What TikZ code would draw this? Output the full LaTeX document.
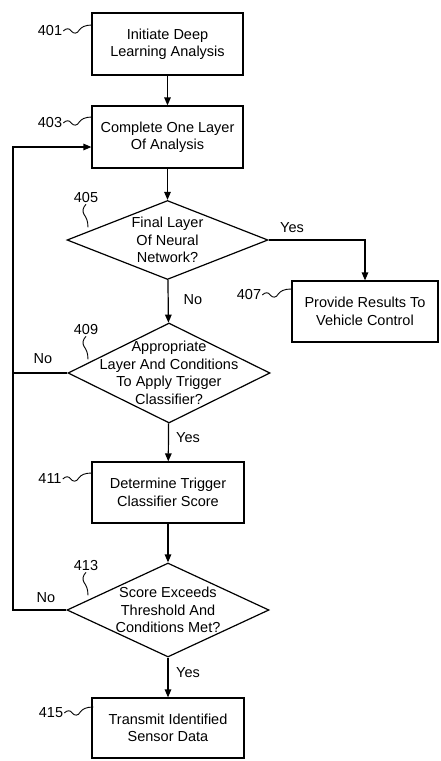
\documentclass[tikz,border=0pt]{standalone}
\usepackage{fontspec}
\setmainfont{Liberation Sans}
\usetikzlibrary{shapes.geometric, arrows.meta, positioning}
\newcommand{\flowfont}{\fontsize{14.5}{17.5}\selectfont}

\begin{document}
\begin{tikzpicture}[x=1pt, y=-1pt,
    box/.style={draw, line width=1.2pt, minimum width=151pt, minimum height=62pt, inner sep=0pt, align=center, font=\flowfont},
    dia/.style={draw, diamond, line width=1.2pt, inner sep=0pt},
    txt/.style={align=center, inner sep=0pt, font=\flowfont},
    ref/.style={inner sep=1pt, font=\flowfont},
    arr/.style={line width=1.2pt, -{Triangle[length=8pt,width=6.5pt]}},
    line/.style={line width=1.2pt},
    lead/.style={line width=0.9pt},
    squig/.pic={\draw[lead] (0,0) .. controls (3,-3) and (6,-3) .. (8,0) .. controls (10,3) and (14,3) .. (16,-1) .. controls (18,-4) and (22,-6) .. (29,-6);},
    vsquig/.pic={\draw[lead] (0,0) .. controls (-3,3) and (-4,7) .. (-2,10) .. controls (0,13) and (2,16) .. (2,23);},
]
    \useasboundingbox (0,0) rectangle (440,761);

    % Schritte
    \node[box] (b401) at (167.5,44) {Initiate Deep\\Learning Analysis};
    \node[box] (b403) at (167.5,137) {Complete One Layer\\Of Analysis};
    \node[dia, minimum width=201pt, minimum height=79pt] (d405) at (167.5,240) {};
    \node[txt] at (d405) {Final Layer\\Of Neural\\Network?};
    \node[box, minimum width=146pt, minimum height=61pt] (b407) at (365,311.5) {Provide Results To\\Vehicle Control};
    \node[dia, minimum width=202pt, minimum height=100pt] (d409) at (169,373) {};
    \node[txt] at (d409) {Appropriate\\Layer And Conditions\\To Apply Trigger\\Classifier?};
    \node[box, minimum width=152pt, minimum height=61pt] (b411) at (168,492.5) {Determine Trigger\\Classifier Score};
    \node[dia, minimum width=202pt, minimum height=94pt] (d413) at (168,610) {};
    \node[txt] at (d413) {Score Exceeds\\Threshold And\\Conditions Met?};
    \node[box, minimum width=152pt, minimum height=60pt] (b415) at (168,728) {Transmit Identified\\Sensor Data};

    % Bezugszeichen
    \node[ref] (l401) at (50,31) {401};
    \node[ref] (l403) at (50,123) {403};
    \node[ref] (l405) at (86,198) {405};
    \node[ref] (l407) at (249,295) {407};
    \node[ref] (l409) at (86,330) {409};
    \node[ref] (l411) at (50,479) {411};
    \node[ref] (l413) at (86,566) {413};
    \node[ref] (l415) at (51,713) {415};
    \pic at (l401.east) {squig};
    \pic at (l403.east) {squig};
    \pic at (l407.east) {squig};
    \pic at (l411.east) {squig};
    \pic at (l415.east) {squig};
    \pic at (l405.south) {vsquig};
    \pic at (l409.south) {vsquig};
    \pic at (l413.south) {vsquig};

    % Verbindungen
    \coordinate (loop) at (13,147);
    \draw[arr] (b401) -- (b403);
    \draw[arr] (b403) -- (d405);
    \draw[arr] (d405.east) -| (b407.north);
    \draw[arr] (d405) -- (d409);
    \draw[arr] (d409) -- (b411);
    \draw[arr] (b411) -- (d413);
    \draw[arr] (d413) -- (b415);
    \draw[line] (d409.west) -- (d409.west -| loop);
    \draw[arr] (d413.west) -| (loop) -- (loop -| b403.west);

    % Beschriftungen
    \node[ref] (yes405) at (292,228) {Yes};
    \node[ref] (no405) at (193,300) {No};
    \node[ref] (no409) at (43,359) {No};
    \node[ref] (yes409) at (188,438) {Yes};
    \node[ref] (no413) at (46,598) {No};
    \node[ref] (yes413) at (188,673) {Yes};
\end{tikzpicture}
\end{document}
